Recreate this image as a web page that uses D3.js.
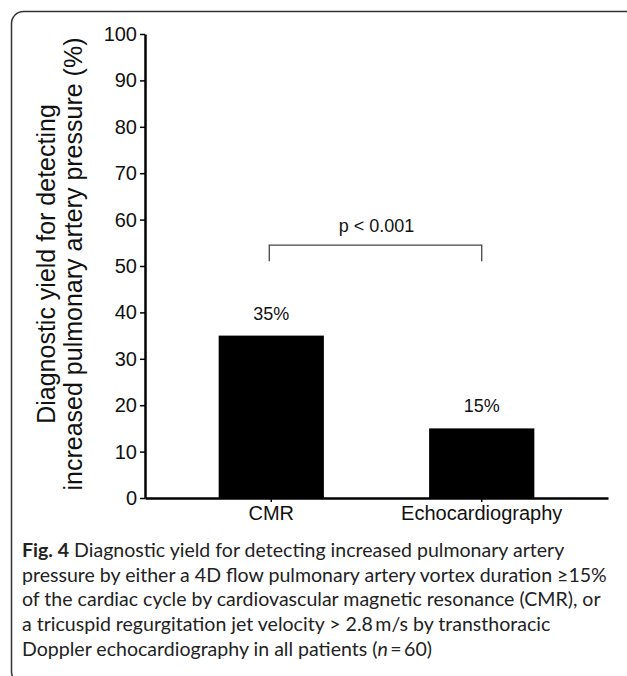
<!DOCTYPE html>
<html>
<head>
<meta charset="utf-8">
<script src="https://cdn.jsdelivr.net/npm/d3@7"></script>
<style>
  body { margin: 0; background: #fff; }
  svg { display: block; }
  .axis text { font-family: Arial, "Liberation Sans", sans-serif; font-size: 20px; fill: #111; }
  .axis path, .axis line { stroke: #000; }
</style>
</head>
<body>
<div id="chart"></div>
<script>
var categories = ["CMR", "Echocardiography"],
    values = [35, 15],
    valueLabels = ["35%", "15%"],
    yTicks = [0, 10, 20, 30, 40, 50, 60, 70, 80, 90, 100],
    yTitle = ["Diagnostic yield for detecting", "increased pulmonary artery pressure (%)"],
    pText = "p < 0.001",
    pBracket = [51, 54.5]; // leg bottom, bar top (in % units)

var captionLines = [
  [{t: "Fig. 4", b: true}, {t: " Diagnostic yield for detecting increased pulmonary artery"}],
  [{t: "pressure by either a 4D flow pulmonary artery vortex duration \u226515%"}],
  [{t: "of the cardiac cycle by cardiovascular magnetic resonance (CMR), or"}],
  [{t: "a tricuspid regurgitation jet velocity > 2.8\u2009m/s by transthoracic"}],
  [{t: "Doppler echocardiography in all patients ("}, {t: "n", i: true}, {t: "\u2009=\u200960)"}]
];

var width = 627, height = 676;

var svg = d3.select("#chart").append("svg")
    .attr("width", width)
    .attr("height", height);

// frame around the figure
svg.append("rect")
    .attr("x", 11.5).attr("y", 11.5)
    .attr("width", 700).attr("height", 672)
    .attr("rx", 12).attr("ry", 12)
    .attr("fill", "none")
    .attr("stroke", "#333")
    .attr("stroke-width", 1.5);

var x = d3.scaleBand()
    .domain(categories)
    .range([145, 608])
    .paddingInner(0.5)
    .paddingOuter(0.35);

var y = d3.scaleLinear()
    .domain([0, 100])
    .range([498, 34]);

// bars
svg.append("g").selectAll("rect")
    .data(values)
  .enter().append("rect")
    .attr("x", function(d, i) { return x(categories[i]); })
    .attr("y", function(d) { return y(d); })
    .attr("width", x.bandwidth())
    .attr("height", function(d) { return y(0) - y(d); })
    .attr("fill", "#000");

// value labels
svg.append("g").selectAll("text")
    .data(values)
  .enter().append("text")
    .attr("x", function(d, i) { return x(categories[i]) + x.bandwidth() / 2; })
    .attr("y", function(d) { return y(d) - 16; })
    .attr("text-anchor", "middle")
    .style("font-family", "Arial, 'Liberation Sans', sans-serif")
    .style("font-size", "18px")
    .style("fill", "#111")
    .text(function(d, i) { return valueLabels[i]; });

// axes
var yAxis = svg.append("g")
    .attr("class", "axis")
    .attr("transform", "translate(145,0)")
    .call(d3.axisLeft(y).tickValues(yTicks).tickSize(5).tickSizeOuter(0).tickPadding(3));
yAxis.select(".domain").attr("stroke-width", 2.5);
yAxis.selectAll(".tick line").attr("stroke-width", 1.5);

var xAxis = svg.append("g")
    .attr("class", "axis")
    .attr("transform", "translate(0," + y(0) + ")")
    .call(d3.axisBottom(x).tickSize(4).tickSizeOuter(0).tickPadding(4));
xAxis.select(".domain").attr("stroke-width", 2.5);
xAxis.selectAll(".tick line").attr("stroke-width", 1.5);

// y title, two lines
var title = svg.append("text")
    .attr("transform", "translate(55,264) rotate(-90)")
    .attr("text-anchor", "middle")
    .style("font-family", "Arial, 'Liberation Sans', sans-serif")
    .style("font-size", "25px")
    .style("fill", "#111");
title.selectAll("tspan")
    .data(yTitle)
  .enter().append("tspan")
    .attr("x", 0)
    .attr("y", function(d, i) { return i * 27; })
    .text(function(d) { return d; });

// significance bracket
var cx0 = x(categories[0]) + x.bandwidth() / 2,
    cx1 = x(categories[1]) + x.bandwidth() / 2;
svg.append("path")
    .attr("d", d3.line()([[cx0 - 2, y(pBracket[0])], [cx0 - 2, y(pBracket[1])], [cx1, y(pBracket[1])], [cx1, y(pBracket[0])]]))
    .attr("fill", "none")
    .attr("stroke", "#444")
    .attr("stroke-width", 1.3);
svg.append("text")
    .attr("x", (cx0 + cx1) / 2)
    .attr("y", y(pBracket[1]) - 13)
    .attr("text-anchor", "middle")
    .style("font-family", "Arial, 'Liberation Sans', sans-serif")
    .style("font-size", "18px")
    .style("fill", "#111")
    .text(pText);

// caption
var cap = svg.append("g")
    .style("font-family", "Lato, 'Open Sans', sans-serif")
    .style("font-size", "16px")
    .style("fill", "#222");
var capText = cap.selectAll("text")
    .data(captionLines)
  .enter().append("text")
    .attr("x", 22)
    .attr("y", function(d, i) { return 557 + i * 24.7; });
capText.selectAll("tspan")
    .data(function(d) { return d; })
  .enter().append("tspan")
    .style("font-weight", function(d) { return d.b ? "bold" : null; })
    .style("font-style", function(d) { return d.i ? "italic" : null; })
    .text(function(d) { return d.t; });

// fit caption font so the widest line spans like the figure
var w = capText.nodes()[1].getComputedTextLength();
cap.style("font-size", (16 * 585 / w) + "px");
</script>
</body>
</html>
